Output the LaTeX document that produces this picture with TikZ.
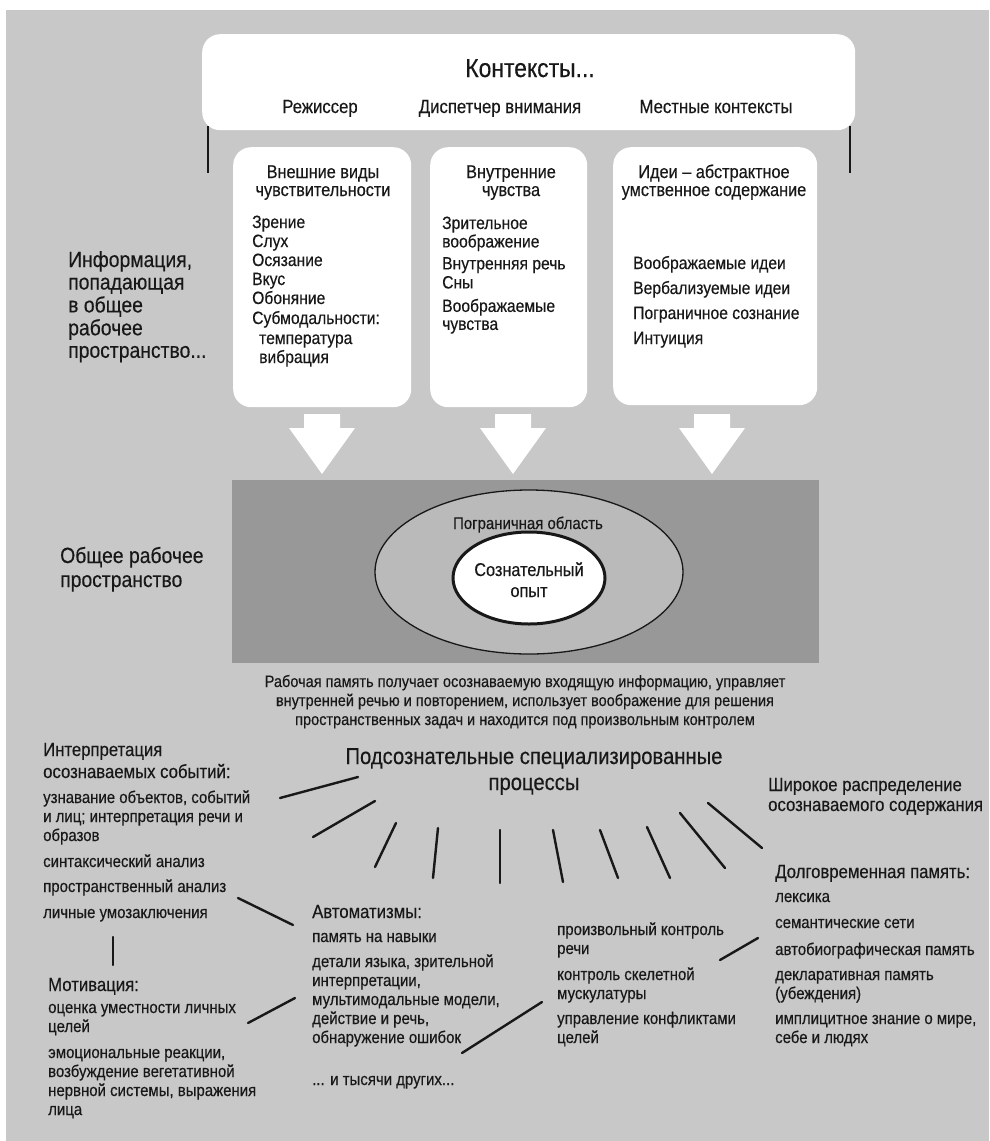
\documentclass[tikz,border=0pt]{standalone}
\usepackage{fontspec}
\setmainfont{Liberation Sans}[FakeStretch=0.88,FakeBold=0.35]
\usetikzlibrary{shapes.geometric}
\definecolor{ink}{RGB}{24,24,24}
\definecolor{bg}{RGB}{200,200,200}
\definecolor{darkws}{RGB}{152,152,152}
\definecolor{ellf}{RGB}{186,186,186}
\newcommand\setfs[2]{\fontsize{#1}{#2}\selectfont}
\newcommand\tl[1]{\begin{tabular}[t]{@{}l@{}}#1\end{tabular}}
\newcommand\tc[1]{\begin{tabular}[t]{@{}c@{}}#1\end{tabular}}
\begin{document}
\begin{tikzpicture}[x=1pt,y=-1pt,
  txt/.style={inner sep=0pt, anchor=base west, text=ink},
  ctxt/.style={inner sep=0pt, anchor=base, text=ink},
  stroke/.style={draw=ink, line width=2.4pt, line cap=round},
  thin/.style={draw=ink, line width=1.2pt},
  wbox/.style={fill=white, draw=none, rounded corners=18pt, inner sep=0pt, anchor=north west},
  hd/.style={font=\setfs{19}{22}},
  li/.style={font=\setfs{17}{19}},
  bi/.style={font=\setfs{17.8}{19}},
]
\useasboundingbox (0,0) rectangle (989,1141);
\fill[white] (0,0) rectangle (989,1141);
\fill[bg] (6,10) rectangle (989,1141);

% ---------- contexts ----------
\node[wbox, minimum width=653pt, minimum height=96pt] (ctx) at (202,34) {};
\node[ctxt, font=\setfs{26}{30}] (ctxt) at (530,77) {Контексты...};
\node[ctxt, font=\setfs{19}{22}] (dir) at (320,113) {Режиссер};
\node[ctxt, font=\setfs{19}{22}] (att) at (500,113) {Диспетчер внимания};
\node[ctxt, font=\setfs{19}{22}] (loc) at (716,113) {Местные контексты};
\coordinate (vlA1) at (208,126); \coordinate (vlA2) at (208,173);
\coordinate (vlB1) at (850,126); \coordinate (vlB2) at (850,173);
\draw[thin] (vlA1) -- (vlA2);
\draw[thin] (vlB1) -- (vlB2);

% ---------- three input boxes ----------
\node[wbox, minimum width=178pt, minimum height=260pt] (b1) at (233,147) {};
\node[wbox, minimum width=157pt, minimum height=260pt] (b2) at (430,147) {};
\node[wbox, minimum width=204pt, minimum height=258pt] (b3) at (613,147) {};

\node[ctxt, font=\setfs{18.5}{18}] (b1t) at (323,178) {\tc{Внешние виды\\чувствительности}};
\node[txt, bi] (b1l) at (252,228) {\tl{Зрение\\Слух\\Осязание\\Вкус\\Обоняние\\[1pt]Субмодальности:\\[1pt]
  \hspace*{7pt}температура\\\hspace*{7pt}вибрация}};

\node[ctxt, font=\setfs{18.5}{18}] (b2t) at (511,178) {\tc{Внутренние\\чувства}};
\node[txt, font=\setfs{17.8}{18}] (b2l) at (442,229) {\tl{Зрительное\\воображение\\[4pt]Внутренняя речь\\[1pt]Сны\\[5pt]Воображаемые\\чувства}};

\node[ctxt, font=\setfs{18.5}{18}] (b3t) at (714,178) {\tc{Идеи -- абстрактное\\умственное содержание}};
\node[txt, font=\setfs{17.8}{25}] (b3l) at (633,269) {\tl{Воображаемые идеи\\Вербализуемые идеи\\Пограничное сознание\\Интуиция}};

\node[txt, font=\setfs{22}{22.5}] (info) at (68,267) {\tl{Информация,\\попадающая\\в общее\\рабочее\\пространство...}};

% ---------- block arrows ----------
\foreach \c/\nm in {322/ar1,513/ar2,712/ar3}{
  \fill[white] ({\c-18},414) -- ({\c+18},414) -- ({\c+18},428) -- ({\c+33},428)
    -- (\c,474) -- ({\c-33},428) -- ({\c-18},428) -- cycle;
}

% ---------- global workspace ----------
\node[fill=darkws, inner sep=0pt, anchor=north west, minimum width=587pt, minimum height=183pt] (gws) at (232,480) {};
\node[ellipse, draw=ink, line width=1.3pt, fill=ellf, inner sep=0pt, minimum width=308pt, minimum height=164pt] (fringe) at (529,572) {};
\node[ellipse, draw=ink, line width=3pt, fill=white, inner sep=0pt, minimum width=152pt, minimum height=92pt] (cons) at (529,578) {};
\node[ctxt, font=\setfs{17}{19}] (fringet) at (528,529) {Пограничная область};
\node[ctxt, font=\setfs{18.5}{21}] (const) at (529,576) {\tc{Сознательный\\опыт}};
\node[txt, font=\setfs{22}{24}] (gwsl) at (60,563) {\tl{Общее рабочее\\пространство}};
\node[ctxt, font=\setfs{16.5}{19}] (wm) at (525,687) {\tc{Рабочая память получает осознаваемую входящую информацию, управляет\\
  внутренней речью и повторением, использует воображение для решения\\
  пространственных задач и находится под произвольным контролем}};

% ---------- unconscious processes ----------
\node[ctxt, font=\setfs{23}{26}] (unc) at (534,764) {\tc{Подсознательные специализированные\\процессы}};

\node[txt, hd] (interh) at (43,756) {\tl{Интерпретация\\осознаваемых событий:}};
\node[txt, li] (interl) at (43,803) {\tl{узнавание объектов, событий\\и лиц; интерпретация речи и\\образов\\[7pt]синтаксический анализ\\[6pt]пространственный анализ\\[7pt]личные умозаключения}};

\node[txt, hd] (motivh) at (48,991) {Мотивация:};
\node[txt, li] (motivl) at (48,1013) {\tl{оценка уместности личных\\целей\\[7pt]эмоциональные реакции,\\возбуждение вегетативной\\нервной системы, выражения\\лица}};

\node[txt, hd] (autoh) at (312,918) {Автоматизмы:};
\node[txt, li] (autol) at (312,942) {\tl{память на навыки\\[6pt]детали языка, зрительной\\интерпретации,\\мультимодальные модели,\\действие и речь,\\обнаружение ошибок}};
\node[txt, li] (autoo) at (312,1085) {... и тысячи других...};

\node[txt, li] (ctrl) at (557,935) {\tl{произвольный контроль\\речи\\[7pt]контроль скелетной\\мускулатуры\\[6pt]управление конфликтами\\целей}};

\node[txt, font=\setfs{19}{20}] (broad) at (768,791) {\tl{Широкое распределение\\осознаваемого содержания}};
\node[txt, hd] (ltmh) at (775,878) {Долговременная память:};
\node[txt, li] (ltml) at (775,902) {\tl{лексика\\[7pt]семантические сети\\[8pt]автобиографическая память\\[6pt]декларативная память\\(убеждения)\\[6pt]имплицитное знание о мире,\\себе и людях}};

% radiating strokes
\coordinate (r1a) at (280,798); \coordinate (r1b) at (358,777);
\coordinate (r2a) at (313,837); \coordinate (r2b) at (375,801);
\coordinate (r3a) at (375,867); \coordinate (r3b) at (396,823);
\coordinate (r4a) at (433,878); \coordinate (r4b) at (438,828);
\coordinate (r5a) at (500,883); \coordinate (r5b) at (500,830);
\coordinate (r6a) at (563,882); \coordinate (r6b) at (553,830);
\coordinate (r7a) at (618,878); \coordinate (r7b) at (600,830);
\coordinate (r8a) at (670,878); \coordinate (r8b) at (647,827);
\coordinate (r9a) at (725,868); \coordinate (r9b) at (680,813);
\coordinate (r10a) at (762,848); \coordinate (r10b) at (708,803);
\foreach \i in {1,...,10}{ \draw[stroke] (r\i a) -- (r\i b); }

% links between groups
\coordinate (l1a) at (238,898); \coordinate (l1b) at (293,925);
\coordinate (l2a) at (113,937); \coordinate (l2b) at (113,965);
\coordinate (l3a) at (248,1023); \coordinate (l3b) at (295,998);
\coordinate (l4a) at (462,1053); \coordinate (l4b) at (542,1002);
\coordinate (l5a) at (720,960); \coordinate (l5b) at (758,938);
\foreach \i in {1,...,5}{ \draw[stroke] (l\i a) -- (l\i b); }
\end{tikzpicture}
\end{document}
